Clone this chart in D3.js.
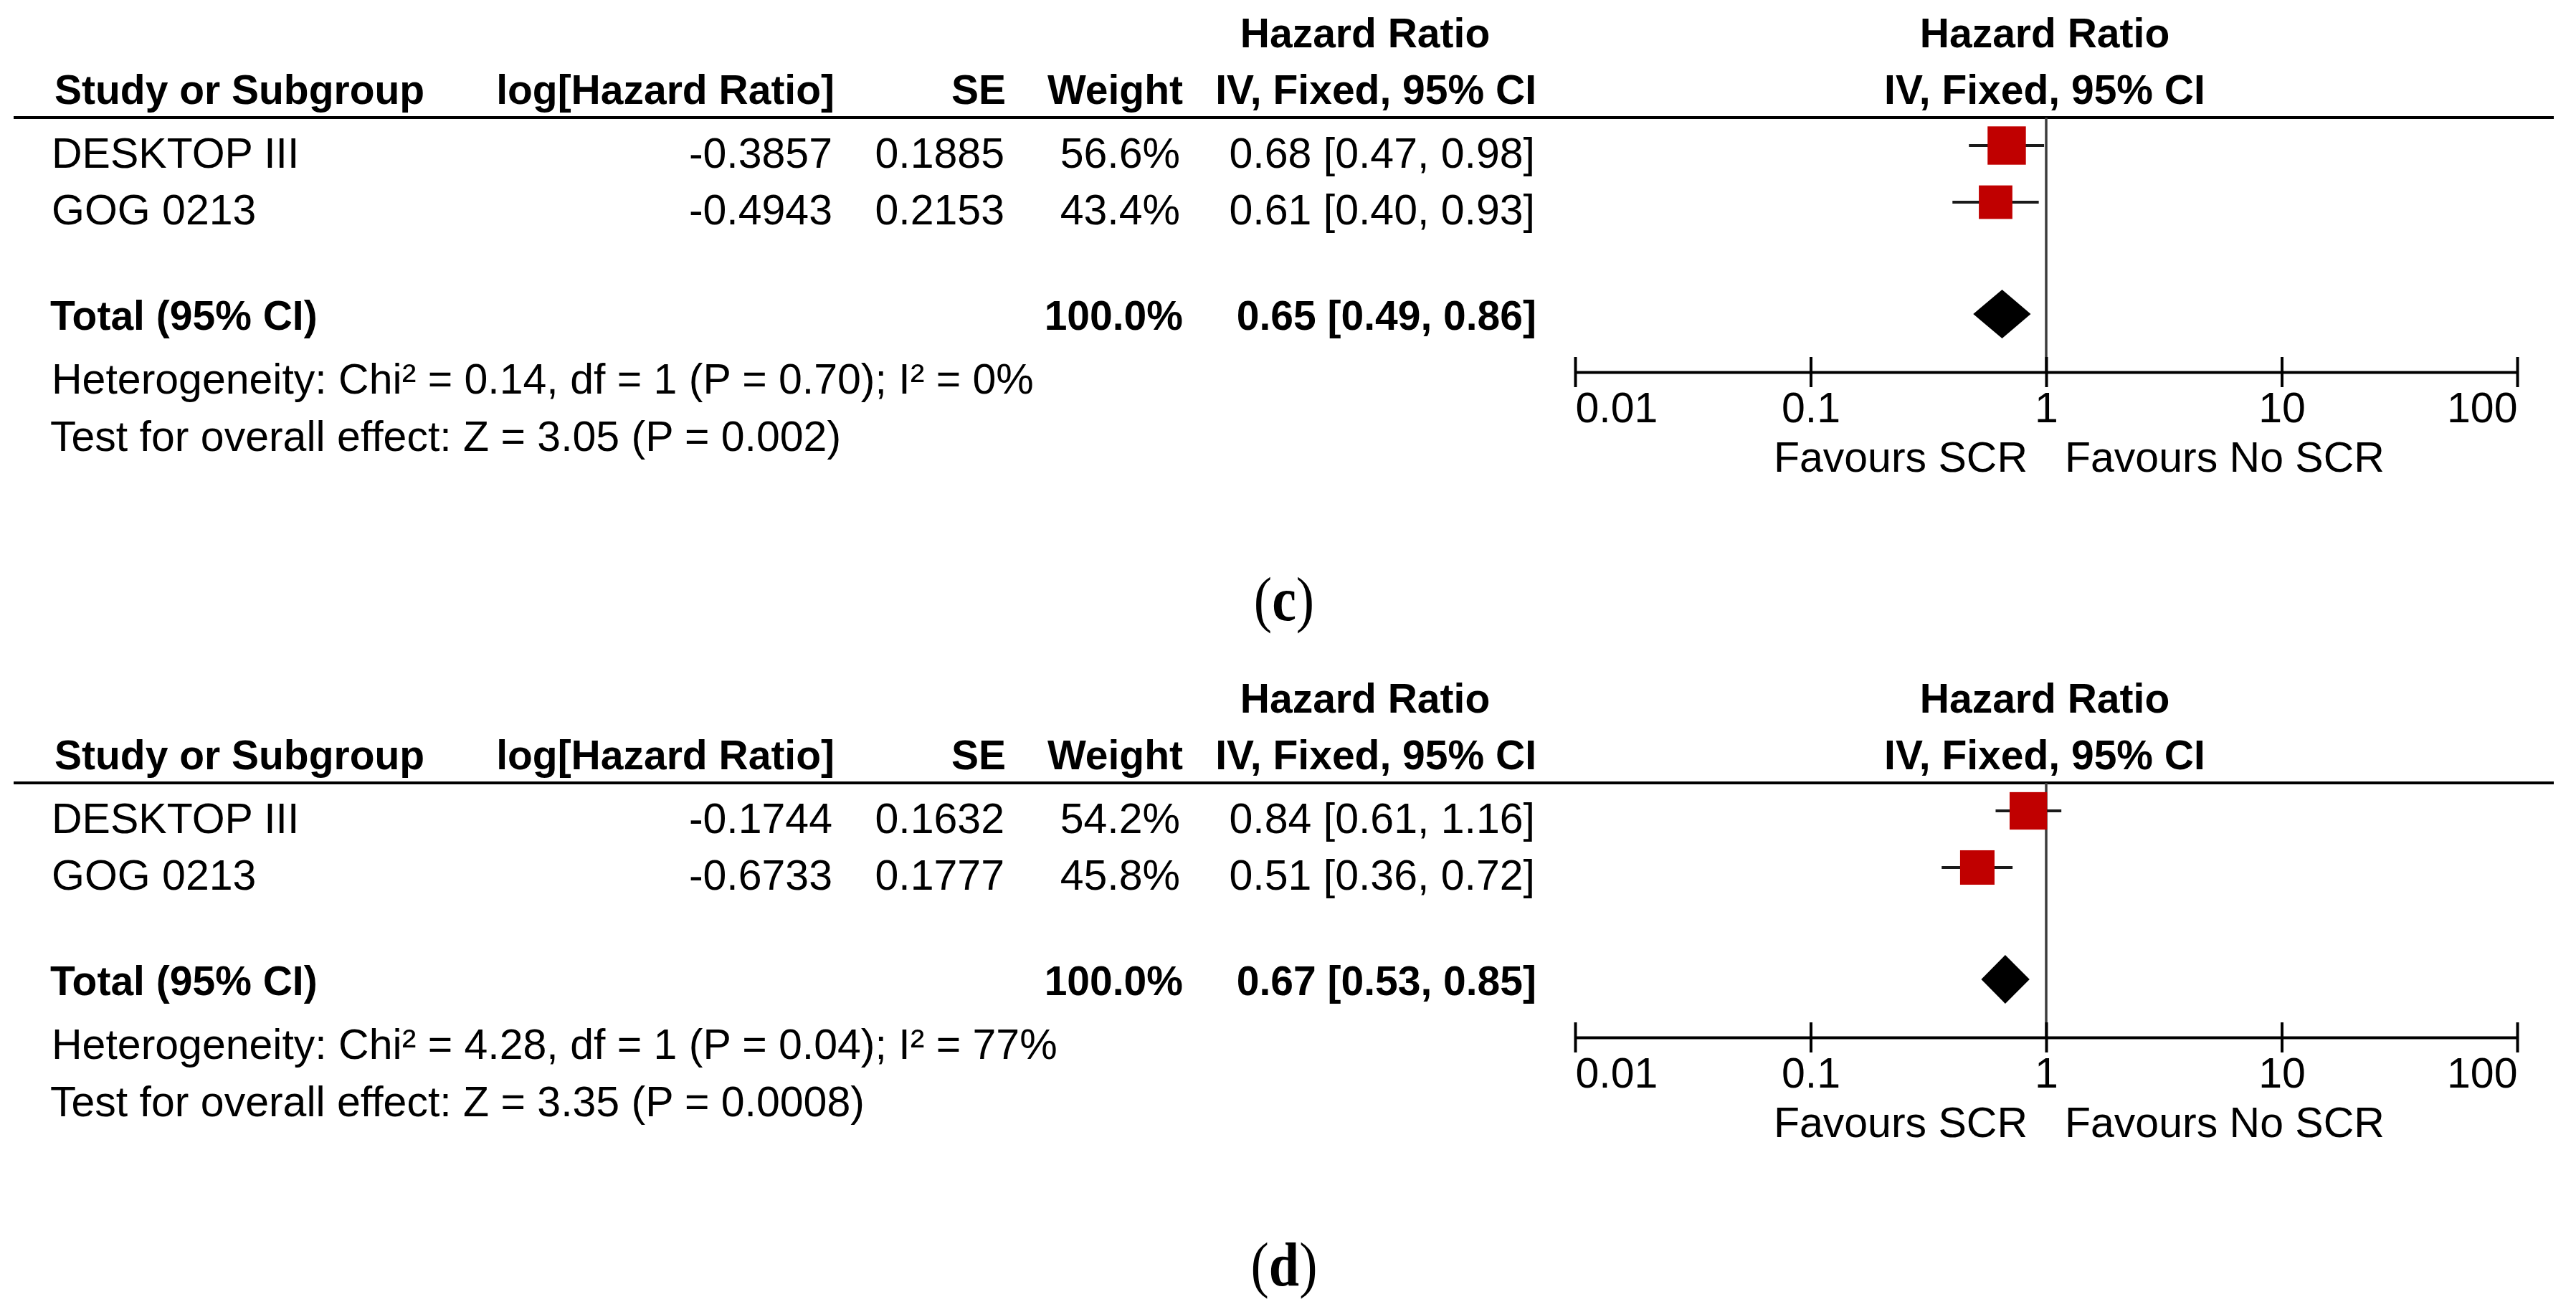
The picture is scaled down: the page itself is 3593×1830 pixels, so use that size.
<!DOCTYPE html>
<html>
<head>
<meta charset="utf-8">
<script src="https://cdn.jsdelivr.net/npm/d3@7"></script>
<style>
  body { margin: 0; background: #fff; }
  text { font-family: "Liberation Sans", Arial, sans-serif; fill: #000; }
  .bold { font-weight: bold; }
  .caption { font-family: "Liberation Serif", "Times New Roman", serif; }
</style>
</head>
<body>
<div id="chart"></div>
<script>
// data
var studies = ['DESKTOP III', 'GOG 0213']
var ticks = [0.01, 0.1, 1, 10, 100]
var tickLabels = ['0.01', '0.1', '1', '10', '100']

// panel (c)
var logHrC = [-0.3857, -0.4943]
var seC = [0.1885, 0.2153]
var weightC = [56.6, 43.4]
var hrC = [0.68, 0.61]
var lowC = [0.47, 0.40]
var highC = [0.98, 0.93]
var totalC = [0.65, 0.49, 0.86]
var hetC = 'Heterogeneity: Chi\u00b2 = 0.14, df = 1 (P = 0.70); I\u00b2 = 0%'
var testC = 'Test for overall effect: Z = 3.05 (P = 0.002)'

// panel (d)
var logHrD = [-0.1744, -0.6733]
var seD = [0.1632, 0.1777]
var weightD = [54.2, 45.8]
var hrD = [0.84, 0.51]
var lowD = [0.61, 0.36]
var highD = [1.16, 0.72]
var totalD = [0.67, 0.53, 0.85]
var hetD = 'Heterogeneity: Chi\u00b2 = 4.28, df = 1 (P = 0.04); I\u00b2 = 77%'
var testD = 'Test for overall effect: Z = 3.35 (P = 0.0008)'

var width = 3593
var height = 1830
var fontReg = 59
var fontBold = 57

var svg = d3.select('#chart').append('svg')
  .attr('width', width)
  .attr('height', height)

var x = d3.scaleLog().domain([0.01, 100]).range([2197, 3511])
var f2 = d3.format('.2f')

function addText(g, str, px, py, anchor, bold) {
  return g.append('text')
    .attr('class', bold ? 'bold' : null)
    .attr('x', px).attr('y', py)
    .attr('text-anchor', anchor)
    .style('font-size', (bold ? fontBold : fontReg) + 'px')
    .text(str)
}

function ciText(h, l, u) {
  return f2(h) + ' [' + f2(l) + ', ' + f2(u) + ']'
}

function panel(offset, logHr, se, weight, hr, low, high, total, het, test, label) {
  var g = svg.append('g').attr('transform', 'translate(0,' + offset + ')')

  // header
  addText(g, 'Hazard Ratio', 1904, 66, 'middle', true)
  addText(g, 'Hazard Ratio', 2852, 66, 'middle', true)
  addText(g, 'Study or Subgroup', 76, 145, 'start', true)
  addText(g, 'log[Hazard Ratio]', 1164, 145, 'end', true)
  addText(g, 'SE', 1403, 145, 'end', true)
  addText(g, 'Weight', 1650, 145, 'end', true)
  addText(g, 'IV, Fixed, 95% CI', 2143, 145, 'end', true)
  addText(g, 'IV, Fixed, 95% CI', 2852, 145, 'middle', true)

  g.append('line')
    .attr('x1', 19).attr('x2', 3562)
    .attr('y1', 164).attr('y2', 164)
    .attr('stroke', '#000').attr('stroke-width', 4)

  // line of no effect
  g.append('line')
    .attr('x1', x(1)).attr('x2', x(1))
    .attr('y1', 164).attr('y2', 519)
    .attr('stroke', '#3c3c3c').attr('stroke-width', 3.5)

  var rowY = [203, 282]
  studies.forEach(function(s, i) {
    var base = rowY[i] + 31
    addText(g, s, 72, base, 'start', false)
    addText(g, logHr[i].toFixed(4), 1161, base, 'end', false)
    addText(g, se[i].toFixed(4), 1401, base, 'end', false)
    addText(g, weight[i].toFixed(1) + '%', 1646, base, 'end', false)
    addText(g, ciText(hr[i], low[i], high[i]), 2141, base, 'end', false)

    g.append('line')
      .attr('x1', x(low[i])).attr('x2', x(high[i]))
      .attr('y1', rowY[i]).attr('y2', rowY[i])
      .attr('stroke', '#1a1a1a').attr('stroke-width', 4)

    var side = 7.1 * Math.sqrt(weight[i])
    g.append('rect')
      .attr('x', x(hr[i]) - side / 2)
      .attr('y', rowY[i] - side / 2)
      .attr('width', side).attr('height', side)
      .attr('fill', '#c00000')
  })

  // total row
  addText(g, 'Total (95% CI)', 70, 460, 'start', true)
  addText(g, '100.0%', 1650, 460, 'end', true)
  addText(g, ciText(total[0], total[1], total[2]), 2143, 460, 'end', true)
  var dy = 438
  g.append('path')
    .attr('d', 'M' + x(total[1]) + ',' + dy +
      'L' + x(total[0]) + ',' + (dy - 34) +
      'L' + x(total[2]) + ',' + dy +
      'L' + x(total[0]) + ',' + (dy + 34) + 'Z')
    .attr('fill', '#000')

  addText(g, het, 72, 549, 'start', false)
  addText(g, test, 70, 629, 'start', false)

  // axis
  var ax = g.append('g')
    .attr('transform', 'translate(0,519)')
    .call(d3.axisBottom(x).tickValues(ticks).tickSize(21).tickSizeOuter(0)
      .tickFormat(function(d, i) { return tickLabels[i] }))
  ax.select('.domain').attr('stroke', '#000').attr('stroke-width', 4)
  ax.selectAll('.tick line').attr('y1', -21).attr('y2', 21)
    .attr('stroke', '#000').attr('stroke-width', 4)
  ax.selectAll('.tick text')
    .attr('y', 70).attr('dy', 0)
    .attr('fill', '#000')
    .style('font-size', fontReg + 'px')
    .style('font-family', '"Liberation Sans", Arial, sans-serif')
    .attr('text-anchor', function(d, i) {
      return i === 0 ? 'start' : (i === ticks.length - 1 ? 'end' : 'middle')
    })

  addText(g, 'Favours SCR', x(1) - 26, 658, 'end', false)
  addText(g, 'Favours No SCR', x(1) + 26, 658, 'start', false)

  // caption
  var cap = g.append('text')
    .attr('class', 'caption')
    .attr('transform', 'translate(1791,865) scale(1,1.15)')
    .attr('text-anchor', 'middle')
    .style('font-size', '76px')
  cap.append('tspan').text('(')
  cap.append('tspan').style('font-weight', 'bold').text(label)
  cap.append('tspan').text(')')
}

panel(0, logHrC, seC, weightC, hrC, lowC, highC, totalC, hetC, testC, 'c')
panel(928, logHrD, seD, weightD, hrD, lowD, highD, totalD, hetD, testD, 'd')
</script>
</body>
</html>
